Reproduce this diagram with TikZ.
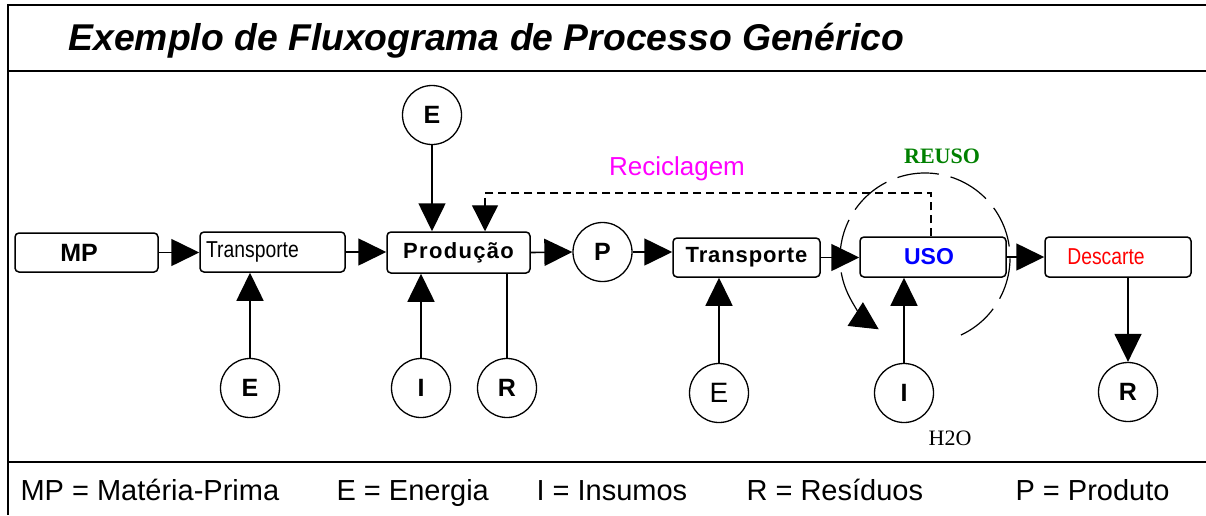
\documentclass[tikz,border=0pt]{standalone}
\usepackage{fontspec}
\setmainfont{Liberation Sans}
\newfontfamily\narrowfont[FakeStretch=0.84]{Liberation Sans}
\newfontfamily\seriffont{Liberation Serif}
\usetikzlibrary{arrows.meta}
\definecolor{magentaR}{RGB}{255,0,255}
\definecolor{greenR}{RGB}{0,128,0}
\definecolor{blueR}{RGB}{0,0,255}
\definecolor{redR}{RGB}{255,0,0}
\begin{document}
\begin{tikzpicture}[x=1pt,y=-1pt,
  procbox/.style={draw, rounded corners=4pt, line width=1.5pt, inner sep=0pt},
  circ/.style={draw, circle, line width=1.3pt, minimum size=59pt, inner sep=0pt,
    font=\bfseries\fontsize{25}{25}\selectfont},
  conn/.style={line width=1.6pt},
  arr/.style={line width=1.6pt, -{Triangle[length=28pt,width=27pt]}},
  recy/.style={line width=1.3pt, dash pattern=on 8pt off 5pt, -{Triangle[length=26pt,width=26pt]}},
  reuse/.style={line width=1.2pt, dash pattern=on 42pt off 12pt, -{Triangle[length=28pt,width=28pt]}},
  legend/.style={anchor=base west, font=\fontsize{29}{30}\selectfont}
]
\useasboundingbox (0,0) rectangle (1206,515);
% frame
\draw[line width=2.5pt] (1206,5) -- (8,5) -- (8,515);
\draw[line width=2.5pt] (8,71) -- (1206,71);
\draw[line width=2.5pt] (8,462) -- (1206,462);
% title
\node[anchor=base west, font=\bfseries\itshape\fontsize{37.3}{38}\selectfont] (title) at (65,50) {Exemplo de Fluxograma de Processo Genérico};
% boxes
\node[procbox, minimum width=143pt, minimum height=39pt, font=\bfseries\fontsize{25}{25}\selectfont] (MP) at (86.5,252.5) {MP\hspace*{15pt}};
\node[procbox, minimum width=145pt, minimum height=40pt, font=\narrowfont\fontsize{23}{23}\selectfont] (T1) at (272.5,252) {Transporte\hspace*{40pt}};
\node[procbox, minimum width=143pt, minimum height=41pt, font=\bfseries\fontsize{22}{22}\selectfont] (Prod) at (458.5,252.5) {\addfontfeature{LetterSpace=6}Produção};
\node[circ] (P) at (602.5,252) {P};
\node[procbox, minimum width=147pt, minimum height=39pt, font=\bfseries\fontsize{22}{22}\selectfont] (T2) at (746.5,257.5) {\addfontfeature{LetterSpace=4}Transporte};
\node[procbox, minimum width=146pt, minimum height=40pt, font=\bfseries\fontsize{23}{23}\selectfont, text=blueR] (USO) at (933,257) {\hspace*{-8pt}USO};
\node[procbox, minimum width=146pt, minimum height=40pt, font=\narrowfont\fontsize{23}{23}\selectfont, text=redR] (Desc) at (1118,257) {Descarte\hspace*{24pt}};
% circles
\node[circ] (Etop) at (432,115) {E};
\node[circ] (E1) at (250,388) {E};
\node[circ] (I1) at (421,388) {I};
\node[circ] (R1) at (507,388) {R};
\node[circ, font=\fontsize{28}{28}\selectfont] (E2) at (719,393) {E};
\node[circ] (I2) at (904,393) {I};
\node[circ] (R2) at (1128,392) {R};
% horizontal flow
\draw[arr] (MP.east) -- (MP.east -| T1.west);
\draw[arr] (T1.east) -- (T1.east -| Prod.west);
\draw[arr] (Prod.east) -- (P.west);
\draw[arr] (P.east) -- (P.east -| T2.west);
\draw[arr] (T2.east) -- (T2.east -| USO.west);
\draw[arr] (USO.east) -- (USO.east -| Desc.west);
% vertical connectors
\draw[arr] (Etop.south) -- (Etop.south |- Prod.north);
\draw[arr] (E1.north) -- (E1.north |- T1.south);
\draw[arr] (I1.north) -- (I1.north |- Prod.south);
\draw[conn] (R1.north |- Prod.south) -- (R1.north);
\draw[arr] (E2.north) -- (E2.north |- T2.south);
\draw[arr] (I2.north) -- (I2.north |- USO.south);
\draw[arr] (R2.north |- Desc.south) -- (R2.north);
% recycling loop
\coordinate (ru) at (931,193);
\coordinate (rl) at (485,193);
\draw[recy] (USO.north -| ru) -- (ru) -- (rl) -- (rl |- Prod.north);
\node[text=magentaR, font=\fontsize{26}{26}\selectfont] (recl) at (677,169) {Reciclagem};
% reuse arc
\coordinate (rc) at (925,258);
\draw[reuse] (rc) ++(65:85) arc[start angle=65, end angle=-237, radius=85];
\node[text=greenR, font=\seriffont\bfseries\fontsize{22}{22}\selectfont] (reuso) at (942,156) {REUSO};
\node[font=\seriffont\fontsize{22}{22}\selectfont] (h2o) at (950,438) {H2O};
% legend
\node[legend] (l1) at (17,500) {MP = Matéria-Prima};
\node[legend] (l2) at (333,500) {E = Energia};
\node[legend] (l3) at (533,500) {I = Insumos};
\node[legend] (l4) at (743,500) {R = Resíduos};
\node[legend] (l5) at (1012,500) {P = Produto};
\end{tikzpicture}
\end{document}
